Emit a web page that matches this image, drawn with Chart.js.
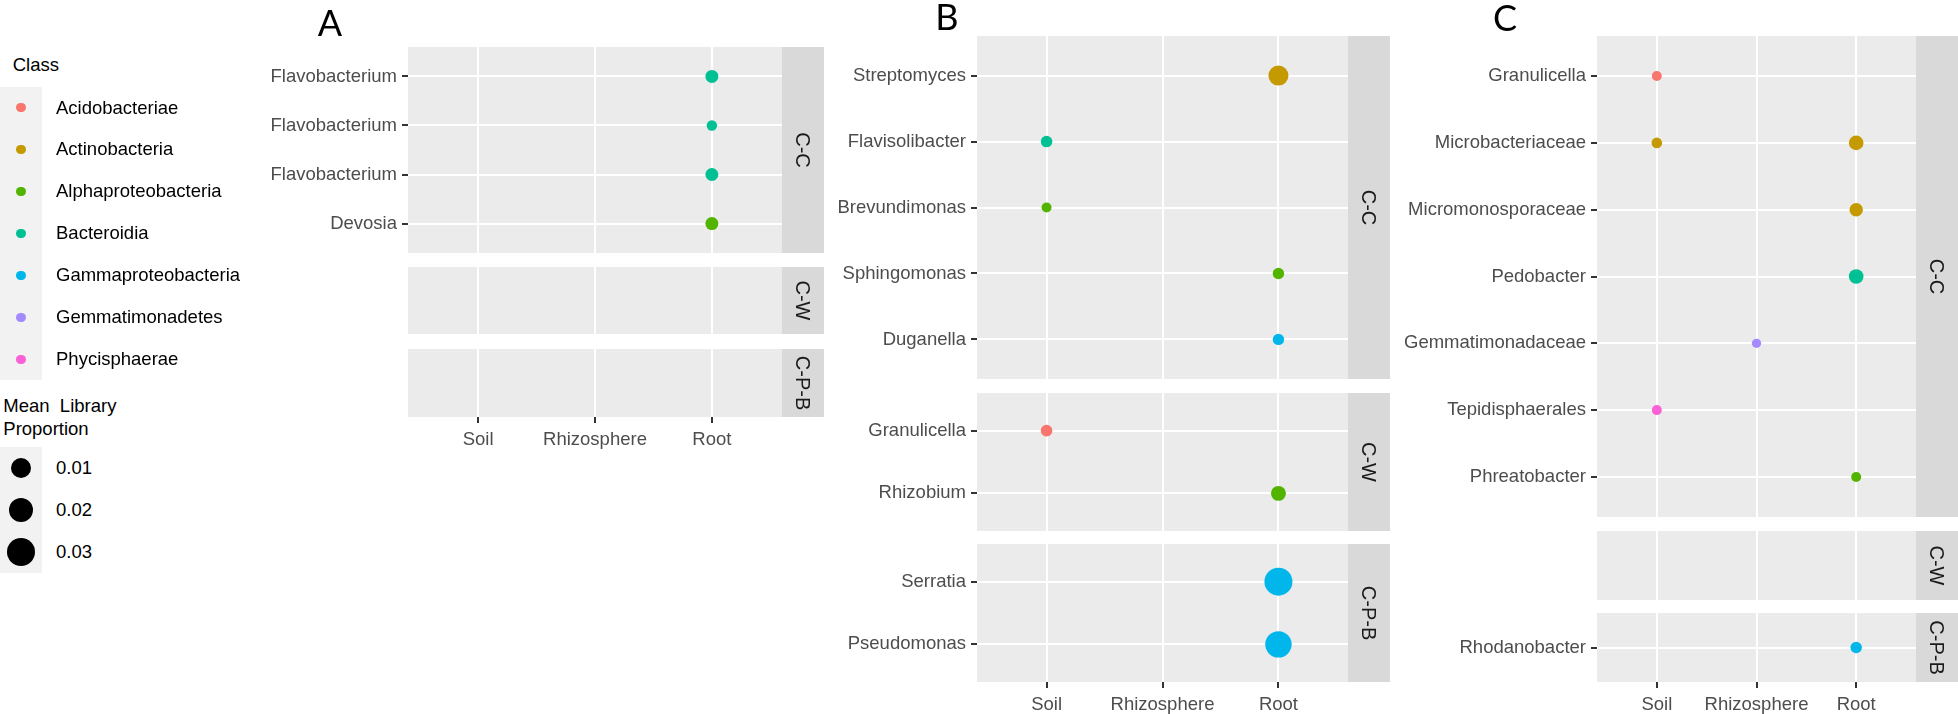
<!DOCTYPE html>
<html><head><meta charset="utf-8">
<script src="https://cdn.jsdelivr.net/npm/chart.js@4.4.1/dist/chart.umd.min.js"></script>
<style>
html,body{margin:0;padding:0;background:#fff;width:1958px;height:714px;overflow:hidden;position:relative;font-family:"Liberation Sans",Arial,sans-serif;}
canvas{position:absolute;}
.t{position:absolute;white-space:pre;line-height:1;}
.c{position:absolute;border-radius:50%;}
.bg{position:absolute;background:#F2F2F2;}
</style></head><body>
<script>
// ---------- data ----------
const locations = ['Soil', 'Rhizosphere', 'Root'];
const classes = ['Acidobacteriae', 'Actinobacteria', 'Alphaproteobacteria', 'Bacteroidia', 'Gammaproteobacteria', 'Gemmatimonadetes', 'Phycisphaerae'];
const classColors = ['#F8766D', '#C49A00', '#53B400', '#00C094', '#00B6EB', '#A58AFF', '#FB61D7'];
const facetNames = ['C-C', 'C-W', 'C-P-B'];
const sizeBreaks = [0.01, 0.02, 0.03];
const panelTitles = ['A', 'B', 'C'];

// Panel A
const A_rows_CC = ['Flavobacterium', 'Flavobacterium', 'Flavobacterium', 'Devosia'];
const A_rows_CW = [];
const A_rows_CPB = [];
const A_pt_facet = ['C-C', 'C-C', 'C-C', 'C-C'];
const A_pt_row = [0, 1, 2, 3];
const A_pt_loc = ['Root', 'Root', 'Root', 'Root'];
const A_pt_class = ['Bacteroidia', 'Bacteroidia', 'Bacteroidia', 'Alphaproteobacteria'];
const A_pt_prop = [0.0013, 0.00016, 0.0013, 0.0013];

// Panel B
const B_rows_CC = ['Streptomyces', 'Flavisolibacter', 'Brevundimonas', 'Sphingomonas', 'Duganella'];
const B_rows_CW = ['Granulicella', 'Rhizobium'];
const B_rows_CPB = ['Serratia', 'Pseudomonas'];
const B_pt_facet = ['C-C', 'C-C', 'C-C', 'C-C', 'C-C', 'C-W', 'C-W', 'C-P-B', 'C-P-B'];
const B_pt_row = [0, 1, 2, 3, 4, 0, 1, 0, 1];
const B_pt_loc = ['Root', 'Soil', 'Soil', 'Root', 'Root', 'Soil', 'Root', 'Root', 'Root'];
const B_pt_class = ['Actinobacteria', 'Bacteroidia', 'Alphaproteobacteria', 'Alphaproteobacteria', 'Gammaproteobacteria', 'Acidobacteriae', 'Alphaproteobacteria', 'Gammaproteobacteria', 'Gammaproteobacteria'];
const B_pt_prop = [0.0099, 0.00055, 0.00008, 0.00047, 0.00047, 0.00055, 0.0029, 0.0294, 0.0247];

// Panel C
const C_rows_CC = ['Granulicella', 'Microbacteriaceae', 'Micromonosporaceae', 'Pedobacter', 'Gemmatimonadaceae', 'Tepidisphaerales', 'Phreatobacter'];
const C_rows_CW = [];
const C_rows_CPB = ['Rhodanobacter'];
const C_pt_facet = ['C-C', 'C-C', 'C-C', 'C-C', 'C-C', 'C-C', 'C-C', 'C-C', 'C-P-B'];
const C_pt_row = [0, 1, 1, 2, 3, 4, 5, 6, 0];
const C_pt_loc = ['Soil', 'Soil', 'Root', 'Root', 'Root', 'Rhizosphere', 'Soil', 'Root', 'Root'];
const C_pt_class = ['Acidobacteriae', 'Actinobacteria', 'Actinobacteria', 'Actinobacteria', 'Bacteroidia', 'Gemmatimonadetes', 'Phycisphaerae', 'Alphaproteobacteria', 'Gammaproteobacteria'];
const C_pt_prop = [0.00008, 0.00021, 0.0026, 0.0016, 0.0026, 0.00001, 0.00008, 0.00008, 0.00047];

// ---------- layout (pixels) ----------
const layoutPanels = [
  { plotL: 408, plotR: 782, bounds: [[47, 253], [267, 334], [349, 417]], titleX: 330, titleY: 22 },
  { plotL: 977, plotR: 1348, bounds: [[36, 379], [393, 531], [544, 682]], titleX: 947, titleY: 16 },
  { plotL: 1597, plotR: 1916, bounds: [[36, 517], [531, 600], [613, 682]], titleX: 1505, titleY: 17 }
];
const panelRows = [[A_rows_CC, A_rows_CW, A_rows_CPB], [B_rows_CC, B_rows_CW, B_rows_CPB], [C_rows_CC, C_rows_CW, C_rows_CPB]];
const panelPts = [
  [A_pt_facet, A_pt_row, A_pt_loc, A_pt_class, A_pt_prop],
  [B_pt_facet, B_pt_row, B_pt_loc, B_pt_class, B_pt_prop],
  [C_pt_facet, C_pt_row, C_pt_loc, C_pt_class, C_pt_prop]
];

const FONT = 'Liberation Sans, Arial, sans-serif';
const radiusOf = v => 4.5 + 55.4 * Math.sqrt(v);
const colorOf = c => classColors[classes.indexOf(c)];

const M = 24, YW = 240, XH = 34, SW = 42;

function addText(txt, left, cy, size, color, extra) {
  const d = document.createElement('div');
  d.className = 't';
  d.textContent = txt;
  d.style.left = left + 'px';
  d.style.top = (cy - size / 2) + 'px';
  d.style.fontSize = size + 'px';
  d.style.color = color;
  if (extra) Object.assign(d.style, extra);
  document.body.appendChild(d);
  return d;
}

function addFacet(panel, fi, rows, pts) {
  const [top, bot] = panel.bounds[fi];
  const isBottom = fi === 2;
  const plotW = panel.plotR - panel.plotL;
  const W = YW + plotW + SW;
  const H = M + (bot - top) + (isBottom ? XH : M);
  const cv = document.createElement('canvas');
  cv.width = W; cv.height = H;
  cv.style.left = (panel.plotL - YW) + 'px';
  cv.style.top = (top - M) + 'px';
  cv.style.width = W + 'px'; cv.style.height = H + 'px';
  document.body.appendChild(cv);
  const n = rows.length;
  const facetLabel = facetNames[fi];
  const deco = {
    id: 'deco' ,
    beforeDraw(chart) {
      const a = chart.chartArea, ctx = chart.ctx;
      ctx.save();
      ctx.fillStyle = '#EBEBEB';
      ctx.fillRect(a.left, a.top, a.right - a.left, a.bottom - a.top);
      ctx.restore();
    },
    afterDraw(chart) {
      const a = chart.chartArea, ctx = chart.ctx;
      ctx.save();
      ctx.fillStyle = '#D9D9D9';
      ctx.fillRect(a.right, a.top, SW, a.bottom - a.top);
      ctx.translate(a.right + SW / 2, (a.top + a.bottom) / 2);
      ctx.rotate(Math.PI / 2);
      ctx.fillStyle = '#1A1A1A';
      ctx.font = '20px ' + FONT;
      ctx.textAlign = 'center';
      ctx.textBaseline = 'middle';
      ctx.fillText(facetLabel, 0, 1);
      ctx.restore();
    }
  };
  new Chart(cv, {
    type: 'scatter',
    data: {
      datasets: [{
        data: pts.map(p => ({ x: locations.indexOf(p.loc), y: p.row })),
        pointRadius: pts.map(p => radiusOf(p.prop)),
        pointHoverRadius: pts.map(p => radiusOf(p.prop)),
        pointBackgroundColor: pts.map(p => colorOf(p.cls)),
        pointBorderWidth: 0,
        pointBorderColor: 'rgba(0,0,0,0)'
      }]
    },
    options: {
      responsive: false,
      animation: false,
      devicePixelRatio: 1,
      events: [],
      layout: { padding: { left: 0, right: SW, top: M, bottom: isBottom ? 0 : M } },
      plugins: { legend: { display: false }, tooltip: { enabled: false } },
      scales: {
        x: {
          type: 'linear', min: -0.6, max: 2.6,
          afterBuildTicks: s => { s.ticks = locations.map((_, i) => ({ value: i })); },
          afterFit: s => { s.height = isBottom ? XH : 0; },
          border: { display: false },
          grid: { color: '#FFFFFF', lineWidth: 2, drawTicks: isBottom, tickLength: 6, tickColor: '#333333', tickWidth: 2 },
          ticks: { display: isBottom, autoSkip: false, maxRotation: 0, padding: 6, color: '#4D4D4D',
                   font: { family: FONT, size: 18.5 }, callback: v => locations[v] }
        },
        y: {
          type: 'linear', reverse: true,
          min: n ? -0.6 : 0, max: n ? n - 0.4 : 1,
          afterBuildTicks: s => { s.ticks = rows.map((_, i) => ({ value: i })); },
          afterFit: s => { s.width = YW; },
          border: { display: false },
          grid: { color: '#FFFFFF', lineWidth: 2, drawTicks: true, tickLength: 6, tickColor: '#333333', tickWidth: 2 },
          ticks: { autoSkip: false, padding: 5, color: '#4D4D4D',
                   font: { family: FONT, size: 18.5 }, callback: v => rows[v] }
        }
      }
    },
    plugins: [deco]
  });
}

layoutPanels.forEach((panel, pi) => {
  const [fac, row, loc, cls, prop] = panelPts[pi];
  facetNames.forEach((fname, fi) => {
    const pts = [];
    fac.forEach((f, k) => { if (f === fname) pts.push({ row: row[k], loc: loc[k], cls: cls[k], prop: prop[k] }); });
    addFacet(panel, fi, panelRows[pi][fi], pts);
  });
  addText(panelTitles[pi], panel.titleX, panel.titleY, 36, '#000', { fontFamily: 'Lato, "Open Sans", sans-serif', transform: 'translateX(-50%)' });
});

// ---------- legend ----------
addText('Class', 12.7, 65, 18.5, '#000');
const keyStep = 41.9, key0 = 107.8;
const bg1 = document.createElement('div');
bg1.className = 'bg';
Object.assign(bg1.style, { left: '0px', top: (key0 - keyStep / 2) + 'px', width: '42px', height: (keyStep * classes.length) + 'px' });
document.body.appendChild(bg1);
classes.forEach((c, i) => {
  const y = key0 + i * keyStep;
  const d = document.createElement('div');
  d.className = 'c';
  const r = 4.7;
  Object.assign(d.style, { left: (21 - r) + 'px', top: (y - r) + 'px', width: 2 * r + 'px', height: 2 * r + 'px', background: classColors[i] });
  document.body.appendChild(d);
  addText(c, 56, y, 18.5, '#000');
});
addText('Mean  Library', 3.3, 406.5, 18.5, '#000');
addText('Proportion', 3.3, 429.5, 18.5, '#000');
const sStep = 42, s0 = 468;
const bg2 = document.createElement('div');
bg2.className = 'bg';
Object.assign(bg2.style, { left: '0px', top: (s0 - sStep / 2) + 'px', width: '42px', height: (sStep * sizeBreaks.length) + 'px' });
document.body.appendChild(bg2);
sizeBreaks.forEach((v, i) => {
  const y = s0 + i * sStep;
  const r = radiusOf(v);
  const d = document.createElement('div');
  d.className = 'c';
  Object.assign(d.style, { left: (21 - r) + 'px', top: (y - r) + 'px', width: 2 * r + 'px', height: 2 * r + 'px', background: '#000' });
  document.body.appendChild(d);
  addText(v.toFixed(2), 56, y, 18.5, '#000');
});
</script>
</body></html>
